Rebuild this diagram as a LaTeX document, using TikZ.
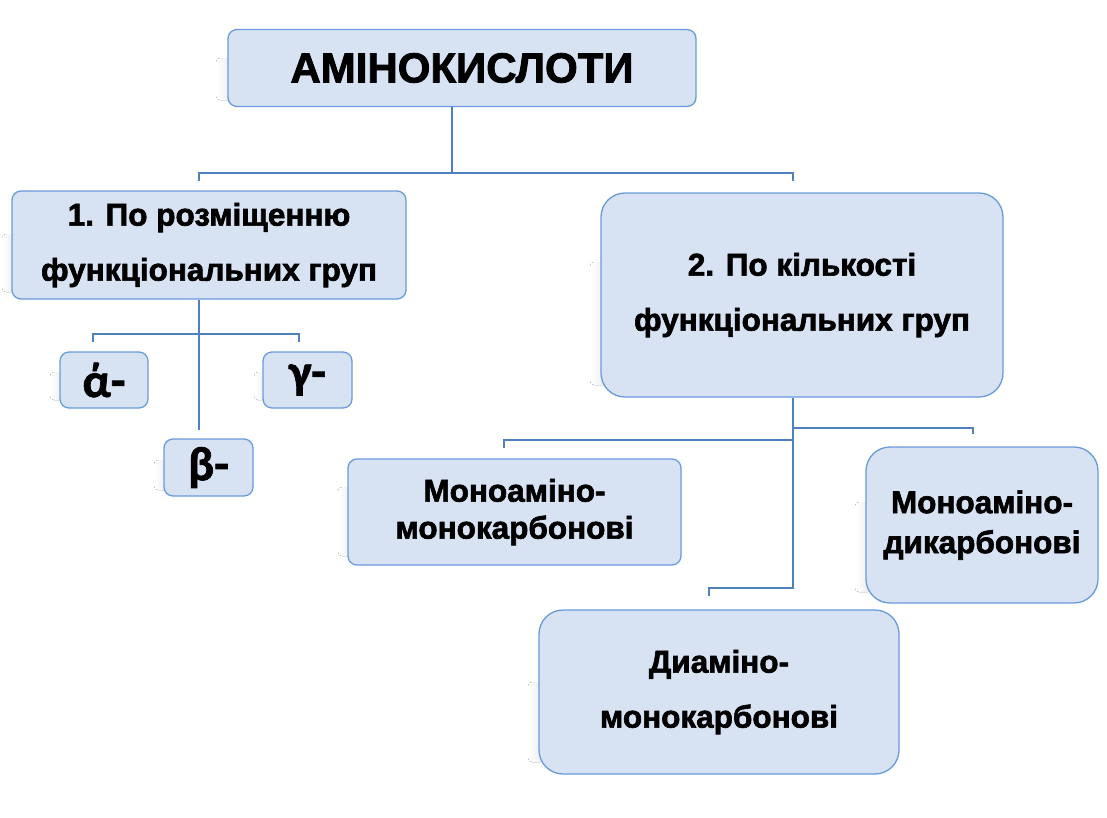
\documentclass[tikz,border=0pt]{standalone}
\usepackage{fontspec}
\setmainfont{Liberation Sans}[BoldFeatures={FakeBold=2}]
\newfontfamily\greekfont{Carlito}[BoldFeatures={FakeBold=1.5}]
\definecolor{boxfill}{RGB}{215,227,243}
\definecolor{boxline}{RGB}{105,155,218}
\definecolor{connc}{RGB}{79,129,189}
\definecolor{shadc}{RGB}{232,232,232}
\begin{document}
\begin{tikzpicture}[x=1pt,y=-1pt,
  box/.style={draw=boxline, line width=1.3pt, fill=boxfill, rounded corners=9pt,
    anchor=center, inner sep=0pt, align=center, font=\bfseries\fontsize{31.5}{55}\selectfont},
  bigbox/.style={box, rounded corners=24pt},
  greekbox/.style={box, font=\greekfont\bfseries\fontsize{48}{48}\selectfont},
  conn/.style={draw=connc, line width=1.4pt},
  shad/.style={left color=white, right color=shadc, rounded corners=4pt}]
\useasboundingbox (0,0) rectangle (1107,817);
% faint left-side shadows
\fill[shad] (216,58) rectangle (234,100);
\fill[shad] (2,234) rectangle (18,292);
\fill[shad] (50,372) rectangle (66,400);
\fill[shad] (254,372) rectangle (270,400);
\fill[shad] (154,460) rectangle (170,490);
\fill[shad] (590,262) rectangle (610,385);
\fill[shad] (338,487) rectangle (354,556);
\fill[shad] (855,502) rectangle (872,592);
\fill[shad] (528,682) rectangle (545,762);
% nodes
\node[box, minimum width=468pt, minimum height=77pt, font=\bfseries\fontsize{42}{42}\selectfont]
  (top) at (462,68) {АМІНОКИСЛОТИ};
\node[box, minimum width=394pt, minimum height=108pt] (box1) at (209,245)
  {1. По розміщенню\\функціональних груп};
\node[bigbox, minimum width=402pt, minimum height=204pt] (box2) at (802,295)
  {2. По кількості\\функціональних груп};
\node[greekbox, minimum width=88pt, minimum height=56pt] (alpha) at (104,380) {ά-};
\node[greekbox, minimum width=89pt, minimum height=56pt] (gamma) at (307.5,380) {γ-};
\node[greekbox, minimum width=89pt, minimum height=57pt] (beta) at (208.5,467.5) {β-};
\node[box, minimum width=333pt, minimum height=106pt, font=\bfseries\fontsize{31.5}{37}\selectfont]
  (mm) at (514.5,512) {Моноаміно-\\монокарбонові};
\node[bigbox, minimum width=232pt, minimum height=156pt, font=\bfseries\fontsize{31.5}{40}\selectfont]
  (md) at (982,525) {Моноаміно-\\дикарбонові};
\node[bigbox, minimum width=360pt, minimum height=164pt] (dm) at (719,692)
  {Диаміно-\\монокарбонові};
% connectors
\coordinate (j1) at (452,173);
\coordinate (l1) at (199,181);
\coordinate (r1) at (793,181);
\draw[conn] (top.south -| j1) -- (j1);
\draw[conn] (l1) |- (j1) -| (r1);
\coordinate (b1) at (199,430);
\coordinate (h1) at (199,334);
\coordinate (al) at (93,342);
\coordinate (gl) at (299,342);
\draw[conn] (box1.south -| b1) -- (b1);
\draw[conn] (al) |- (h1) -| (gl);
\coordinate (c2) at (793,588);
\coordinate (dl) at (709,596);
\draw[conn] (box2.south -| c2) -- (c2) -| (dl);
\coordinate (h2r) at (793,428);
\coordinate (mdl) at (973,434);
\draw[conn] (h2r) -| (mdl);
\coordinate (h2l) at (793,440);
\coordinate (mml) at (504,448);
\draw[conn] (h2l) -| (mml);
\end{tikzpicture}
\end{document}
